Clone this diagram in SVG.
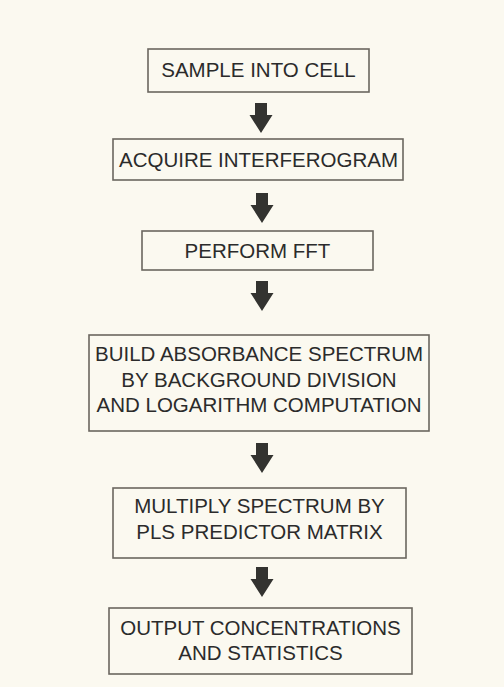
<svg xmlns="http://www.w3.org/2000/svg" width="504" height="687" viewBox="0 0 504 687">
<style>
.box{fill:none;stroke:#6b6760;stroke-width:1.6}
.t{font-family:"Liberation Sans",Arial,sans-serif;font-size:20.5px;fill:#2b2b2b;text-anchor:middle}
.arr{fill:#333330}
</style>
<defs>
<path id="ar" d="M-6,0 H6 V12 H11.5 L0,30 L-11.5,12 H-6 Z"/>
</defs>
<rect width="504" height="687" fill="#fbf9f0"/>
<g id="n1"><rect class="box" x="148" y="49" width="221" height="43"/><text class="t" x="258.5" y="77">SAMPLE INTO CELL</text></g>
<g id="n2"><rect class="box" x="113" y="139" width="290" height="41"/><text class="t" x="258.5" y="167">ACQUIRE INTERFEROGRAM</text></g>
<g id="n3"><rect class="box" x="142" y="231" width="231" height="39"/><text class="t" x="257.5" y="258">PERFORM FFT</text></g>
<g id="n4"><rect class="box" x="89" y="335" width="340" height="96"/><text class="t" x="259" y="361">BUILD ABSORBANCE SPECTRUM</text><text class="t" x="259" y="387">BY BACKGROUND DIVISION</text><text class="t" x="259" y="412">AND LOGARITHM COMPUTATION</text></g>
<g id="n5"><rect class="box" x="113" y="488" width="293" height="70"/><text class="t" x="259.5" y="513">MULTIPLY SPECTRUM BY</text><text class="t" x="259.5" y="539">PLS PREDICTOR MATRIX</text></g>
<g id="n6"><rect class="box" x="109" y="608" width="303" height="66"/><text class="t" x="260.5" y="635">OUTPUT CONCENTRATIONS</text><text class="t" x="260.5" y="660">AND STATISTICS</text></g>
<g id="connectors" class="arr">
<use href="#ar" x="261" y="103"/>
<use href="#ar" x="262" y="193"/>
<use href="#ar" x="262" y="281"/>
<use href="#ar" x="262" y="443"/>
<use href="#ar" x="262" y="567"/>
</g>
</svg>
